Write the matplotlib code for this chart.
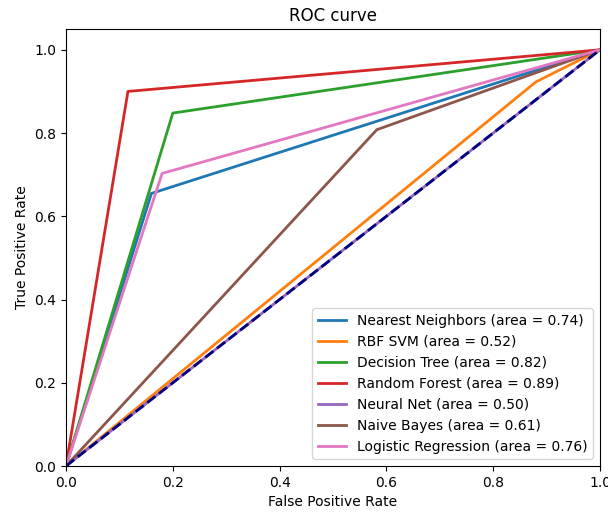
import matplotlib
matplotlib.use("Agg")
import matplotlib.pyplot as plt

names = ["Nearest Neighbors", "RBF SVM", "Decision Tree", "Random Forest",
         "Neural Net", "Naive Bayes", "Logistic Regression"]
areas = [0.74, 0.52, 0.82, 0.89, 0.50, 0.61, 0.76]
fpr = [[0, 0.16, 1], [0, 0.88, 1], [0, 0.20, 1], [0, 0.116, 1],
       [0, 1], [0, 0.582, 1], [0, 0.18, 1]]
tpr = [[0, 0.655, 1], [0, 0.923, 1], [0, 0.848, 1], [0, 0.90, 1],
       [0, 1], [0, 0.808, 1], [0, 0.703, 1]]

fig = plt.figure(figsize=(6.08, 5.14), dpi=100)
ax = fig.add_subplot(111)
fig.subplots_adjust(left=66/608, right=600/608, bottom=48/514, top=485/514)

for name, area, x, y in zip(names, areas, fpr, tpr):
    ax.plot(x, y, lw=2, label='%s (area = %0.2f)' % (name, area))
ax.plot([0, 1], [0, 1], color='navy', lw=2, linestyle='--')

ax.set_xlim([0.0, 1.0])
ax.set_ylim([0.0, 1.05])
ax.set_xlabel('False Positive Rate')
ax.set_ylabel('True Positive Rate')
ax.set_title('ROC curve')
ax.legend(loc="lower right")
plt.savefig('out.png')
